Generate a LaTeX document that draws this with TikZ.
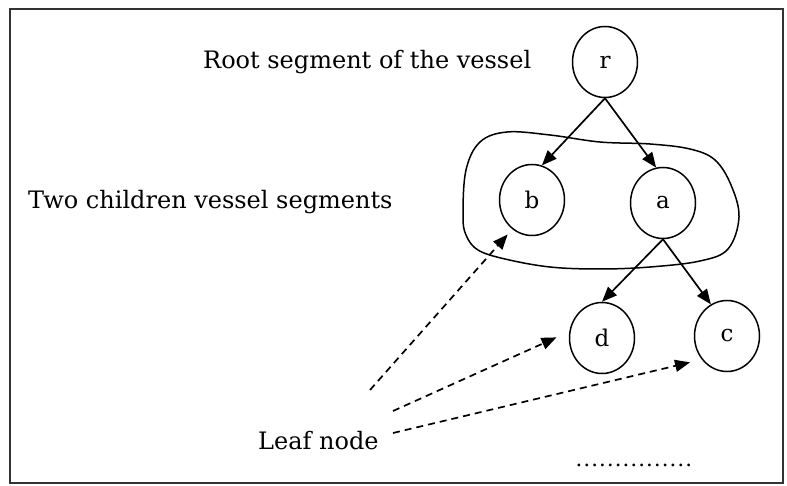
\documentclass[tikz,border=0pt]{standalone}
\usepackage{fontspec}
\setmainfont{DejaVu Serif}
\newfontfamily\dotsfont{Liberation Serif}
\usetikzlibrary{arrows.meta,shapes.geometric}
\begin{document}
\begin{tikzpicture}[x=1pt,y=-1pt,
  vnode/.style={draw,ellipse,line width=1.5pt,minimum width=65pt,minimum height=71pt,inner sep=0pt,font=\fontsize{23}{26}\selectfont},
  lbl/.style={anchor=base west,inner sep=0pt,font=\fontsize{24}{28}\selectfont},
  tree/.style={line width=1.7pt,-{Triangle[length=15pt,width=12pt]}},
  leaf/.style={line width=1.7pt,dash pattern=on 7pt off 5pt,-{Triangle[length=15pt,width=12pt]}}
]
\useasboundingbox (0,0) rectangle (787,486);
\draw[line width=2pt,draw=black!80] (10,9) rectangle (783,483);

% grouping outline
\draw[line width=1.5pt] plot[smooth cycle,tension=0.6] coordinates {
 (463,215) (466,170) (480,142) (507,132) (550,135) (600,142) (650,144)
 (690,149) (715,160) (731,185) (739,217) (728,249) (700,261) (650,267)
 (600,269) (550,267) (505,259) (478,250) (466,235)};

% vessel segments
\node[vnode] (r) at (605,62) {r};
\node[vnode] (b) at (532,200) {b};
\node[vnode] (a) at (663,203) {a};
\node[vnode] (d) at (602,338) {d};
\node[vnode] (c) at (727,336) {c};

\draw[tree] (r.south) -- (b.74);
\draw[tree] (r.south) -- (a.101);
\draw[tree] (a.south) -- (d.north);
\draw[tree] (a.south) -- (c.117);

% texts
\node[lbl] (troot) at (203,69) {Root segment of the vessel};
\node[lbl] (ttwo) at (28,209) {Two children vessel segments};
\node[lbl] (tleaf) at (258,449) {Leaf node};
\node[anchor=base west,inner sep=0pt,font=\dotsfont\fontsize{23.5}{26}\selectfont] (tdots) at (575,466) {……………};

% leaf pointers
\coordinate (l1) at (370,390);
\coordinate (l2) at (393,411);
\coordinate (l3) at (393,433);
\draw[leaf,shorten >=7pt] (l1) -- (b.236);
\draw[leaf,shorten >=14pt] (l2) -- (d.169);
\draw[leaf,shorten >=12pt] (l3) -- (c.223);
\end{tikzpicture}
\end{document}
